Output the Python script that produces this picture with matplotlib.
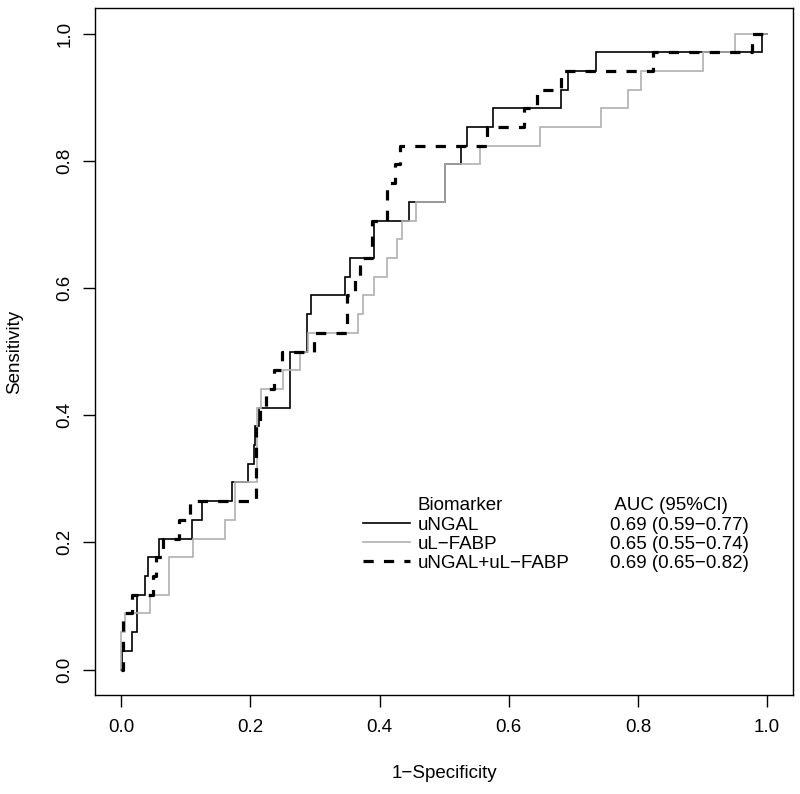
import matplotlib
matplotlib.use("Agg")
import matplotlib.pyplot as plt
from matplotlib.lines import Line2D
import numpy as np

plt.rcParams['font.family'] = ['Liberation Sans', 'DejaVu Sans']

# ---- data (ROC vertices: false-positive rate where a rise occurs, true positives after the rise) ----
n_pos = 34

ngal_fpr = [0.0, 0.001, 0.0175, 0.025, 0.037, 0.041, 0.058, 0.110, 0.125, 0.172,
            0.197, 0.206, 0.207, 0.214, 0.262, 0.288, 0.294, 0.347, 0.355, 0.392,
            0.445, 0.502, 0.526, 0.535, 0.575, 0.681, 0.692, 0.735, 0.992, 1.0]
ngal_tp = [0, 1, 2, 4, 5, 6, 7, 8, 9, 10,
           11, 12, 13, 14, 17, 19, 20, 21, 22, 24,
           25, 27, 28, 29, 30, 31, 32, 33, 34, 34]

fabp_fpr = [0.0, 0.0, 0.006, 0.045, 0.074, 0.111, 0.161, 0.176, 0.210, 0.217,
            0.251, 0.277, 0.289, 0.367, 0.375, 0.391, 0.412, 0.427, 0.435, 0.457,
            0.502, 0.555, 0.649, 0.743, 0.784, 0.804, 0.901, 0.951, 1.0]
fabp_tp = [0, 2, 3, 4, 6, 7, 8, 10, 14, 15,
           16, 17, 18, 19, 20, 21, 22, 23, 24, 25,
           27, 28, 29, 30, 31, 32, 33, 34, 34]

combo_fpr = [0.0, 0.003, 0.017, 0.049, 0.054, 0.065, 0.090, 0.106, 0.209, 0.215,
             0.224, 0.236, 0.249, 0.298, 0.349, 0.362, 0.370, 0.388, 0.411, 0.424,
             0.432, 0.566, 0.624, 0.644, 0.681, 0.824, 0.976, 1.0]
combo_tp = [0, 3, 4, 5, 6, 7, 8, 9, 13, 14,
            15, 16, 17, 18, 20, 21, 22, 24, 26, 27,
            28, 29, 30, 31, 32, 33, 34, 34]

series_names = ["uNGAL", "uL\u2212FABP", "uNGAL+uL\u2212FABP"]
auc_labels = ["0.69 (0.59\u22120.77)", "0.65 (0.55\u22120.74)", "0.69 (0.65\u22120.82)"]
legend_header = "Biomarker"
auc_header = " AUC (95%CI)"
xticks = [0.0, 0.2, 0.4, 0.6, 0.8, 1.0]
yticks = [0.0, 0.2, 0.4, 0.6, 0.8, 1.0]
tick_labels = ["0.0", "0.2", "0.4", "0.6", "0.8", "1.0"]

FS = 13.5

fig = plt.figure(figsize=(8.0, 7.94), dpi=100)
ax = fig.add_axes([0.1191, 0.1247, 0.8721, 0.8651])

l1, = ax.plot(ngal_fpr, np.array(ngal_tp) / n_pos, drawstyle='steps-post',
              color='black', lw=1.2, solid_joinstyle='miter')
l2, = ax.plot(fabp_fpr, np.array(fabp_tp) / n_pos, drawstyle='steps-post',
              color='#b0b0b0', lw=1.2, solid_joinstyle='miter')
l3, = ax.plot(combo_fpr, np.array(combo_tp) / n_pos, drawstyle='steps-post',
              color='black', lw=2.3, linestyle=(0, (3.2, 3.2)), dash_capstyle='butt')

ax.set_xlim(-0.04, 1.04)
ax.set_ylim(-0.04, 1.04)
ax.set_xticks(xticks)
ax.set_xticklabels(tick_labels, fontsize=FS)
ax.set_yticks(yticks)
ax.set_yticklabels(tick_labels, fontsize=FS, rotation=90, va='center')
ax.tick_params(axis='both', direction='out', length=8.6, width=1.0, color='black')
ax.tick_params(axis='x', pad=9)
ax.tick_params(axis='y', pad=7)
for s in ax.spines.values():
    s.set_color('black')
    s.set_linewidth(1.0)

ax.set_xlabel("1\u2212Specificity", fontsize=FS)
ax.set_ylabel("Sensitivity", fontsize=FS)
ax.xaxis.set_label_coords(0.5, -0.1136)
ax.xaxis.label.set_va('center')
ax.yaxis.set_label_coords(-0.1151, 0.5)
ax.yaxis.label.set_va('center')

blank = Line2D([], [], alpha=0)
leg_kw = dict(loc='upper left', bbox_transform=ax.transData, frameon=False,
              fontsize=FS, labelspacing=0.11, borderpad=0, borderaxespad=0)
leg1 = ax.legend([blank, l1, l2, l3], [legend_header] + series_names,
                 bbox_to_anchor=(0.375, 0.271),
                 handlelength=2.5, handletextpad=0.4, **leg_kw)
ax.add_artist(leg1)
blanks = [Line2D([], [], alpha=0) for _ in range(4)]
leg2 = ax.legend(blanks, [auc_header] + auc_labels,
                 bbox_to_anchor=(0.757, 0.271),
                 handlelength=0, handletextpad=0, **leg_kw)

fig.savefig("out.png", dpi=100)
